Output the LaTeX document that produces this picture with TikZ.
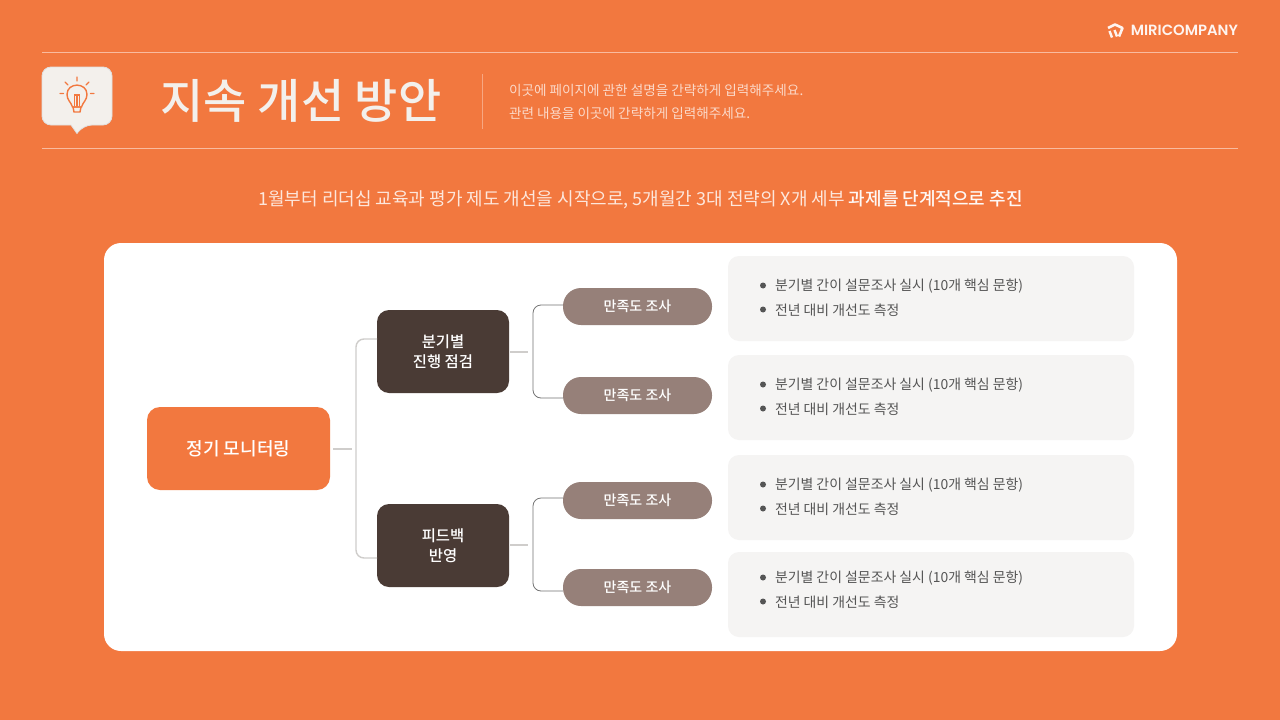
\documentclass[tikz,border=0pt]{standalone}
\usepackage{fontspec}
\setmainfont{Noto Sans CJK KR}
\newfontfamily\medfont{Noto Sans CJK KR Medium}
\newfontfamily\logofont{Poppins SemiBold}
\definecolor{bgorange}{HTML}{F2783F}
\definecolor{darkbrown}{HTML}{4A3B35}
\definecolor{pillbrown}{HTML}{968079}
\definecolor{notegray}{HTML}{F5F4F3}
\definecolor{linegray}{HTML}{CFCDCB}
\definecolor{textgray}{HTML}{555555}
\definecolor{iconpaper}{HTML}{F3F0EC}
\tikzset{
  rootbox/.style={fill=bgorange,rounded corners=13pt,minimum width=183pt,minimum height=83pt,text=white,font=\medfont\fontsize{18}{22}\selectfont},
  midbox/.style={fill=darkbrown,rounded corners=12pt,minimum width=132pt,minimum height=83pt,text=white,align=center,font=\medfont\fontsize{15.4}{20}\selectfont},
  pillbox/.style={fill=pillbrown,rounded corners=18pt,minimum width=149pt,minimum height=37pt,text=white,font=\medfont\fontsize{14}{18}\selectfont},
  notebox/.style={fill=notegray,rounded corners=11pt,minimum width=406pt,minimum height=85pt},
  noteline/.style={anchor=west,text=textgray,font=\fontsize{13.9}{18}\selectfont},
  notedot/.style={circle,fill=textgray,inner sep=0pt,minimum size=6pt},
  thickline/.style={linegray,line width=1.4pt},
  thinline/.style={black!55,line width=0.8pt},
  headline/.style={white!50!bgorange,line width=0.8pt}
}
\begin{document}
\begin{tikzpicture}[x=1pt,y=-1pt,inner sep=0pt,outer sep=0pt]
   \useasboundingbox (0,0) rectangle (1280,720);
   \fill[bgorange] (0,0) rectangle (1280,720);
   % header
   \coordinate (hla) at (42,52);
   \coordinate (hlb) at (1238,52);
   \coordinate (hlc) at (42,148);
   \coordinate (hld) at (1238,148);
   \coordinate (hle) at (482.5,74);
   \coordinate (hlf) at (482.5,129);
   \draw[headline] (hla) -- (hlb);
   \draw[headline] (hlc) -- (hld);
   \draw[white!35!bgorange,line width=0.8pt] (hle) -- (hlf);
   \node[anchor=east,text=white!92!bgorange,font=\logofont\fontsize{14.8}{16}\selectfont] (logo) at (1238,30.5) {MIRICOMPANY};
   \begin{scope}[white!92!bgorange,line join=round]
      \draw[line width=2.6pt] (1108,28) -- (1115,24.5) -- (1122.5,28) -- (1119,36.5);
      \draw[line width=2.4pt] (1109.5,31) -- (1112,37.5);
      \draw[line width=2.4pt] (1114.5,30) -- (1117,36.5);
   \end{scope}
   % icon
   \filldraw[fill=iconpaper,draw=black!12,line width=0.8pt,rounded corners=9pt]
      (42,67) -- (112,67) -- (112,125) -- (83,125) [sharp corners] -- (77,133.5) -- (71,125) [rounded corners=9pt] -- (42,125) -- cycle;
   \begin{scope}[bgorange,line width=1.4pt,line cap=round]
      \draw (72.5,107) .. controls (71,102) and (67,100) .. (67,94.5) .. controls (67,82) and (87,82) .. (87,94.5) .. controls (87,100) and (83,102) .. (81.5,107) -- cycle;
      \draw (73,107) -- (81,107) -- (80,112) -- (74,112) -- cycle;
      \draw (74.5,106) -- (74.5,95) -- (79.5,95) -- (79.5,106) (77,95) -- (77,106);
      \draw (77,77) -- (77,81) (65,82) -- (68,85) (89,82) -- (86,85) (60,93.5) -- (63.5,93.5) (90.5,93.5) -- (94,93.5);
   \end{scope}
   \node[anchor=center,text=iconpaper,font=\medfont\fontsize{47}{50}\selectfont] (title) at (301,100.5) {지속 개선 방안};
   \node[anchor=west,text=white!72!bgorange,font=\fontsize{13.6}{18}\selectfont] (desca) at (509,90) {이곳에 페이지에 관한 설명을 간략하게 입력해주세요.};
   \node[anchor=west,text=white!72!bgorange,font=\fontsize{13.6}{18}\selectfont] (descb) at (509,113.5) {관련 내용을 이곳에 간략하게 입력해주세요.};
   \node[text=white!82!bgorange,font=\fontsize{18}{22}\selectfont] (lead) at (640.5,199.5) {1월부터 리더십 교육과 평가 제도 개선을 시작으로, 5개월간 3대 전략의 X개 세부 {\medfont\color{white!95!bgorange}과제를 단계적으로 추진}};
   % panel
   \fill[white,rounded corners=17pt] (104,243) rectangle (1177,651);
   % tree
   \node[rootbox] (root) at (238.5,448.5) {정기 모니터링};
   \node[midbox] (mida) at (443,351.5) {분기별\\진행 점검};
   \node[midbox] (midb) at (443,545.5) {피드백\\반영};
   \foreach \name/\y in {pa/306.5,pb/395.5,pc/500.5,pd/587.5}
      \node[pillbox] (\name) at (637.5,\y) {만족도 조사};
   \foreach \name/\y/\ya/\yb in {na/298.5/286.5/310,nb/397.5/385.5/409,nc/497.5/485.5/509,nd/594.5/578.5/602}{
      \node[notebox] (\name) at (931,\y) {};
      \node[notedot] (\name dota) at (763,\ya-1) {};
      \node[notedot] (\name dotb) at (763,\yb-.5) {};
      \node[noteline] (\name texta) at (775,\ya) {분기별 간이 설문조사 실시 (10개 핵심 문항)};
      \node[noteline] (\name textb) at (775,\yb) {전년 대비 개선도 측정};
   }
   % connectors
   \coordinate (rs) at (333,449);
   \coordinate (re) at (352,449);
   \draw[thickline] (rs) -- (re);
   \coordinate (mat) at (377,339);
   \coordinate (mbt) at (377,558);
   \draw[thickline,rounded corners=8pt] (mat) -| (356,448.5) |- (mbt);
   \coordinate (mas) at (510,352);
   \coordinate (mae) at (528,352);
   \coordinate (mbs) at (510,545);
   \coordinate (mbe) at (528,545);
   \draw[thickline] (mas) -- (mae);
   \draw[thickline] (mbs) -- (mbe);
   \draw[thinline,rounded corners=8pt] (pa.west |- 0,305) -| (533,352) |- (pb.west |- 0,398);
   \draw[thinline,rounded corners=8pt] (pc.west |- 0,498) -| (533,545) |- (pd.west |- 0,591);
\end{tikzpicture}
\end{document}
